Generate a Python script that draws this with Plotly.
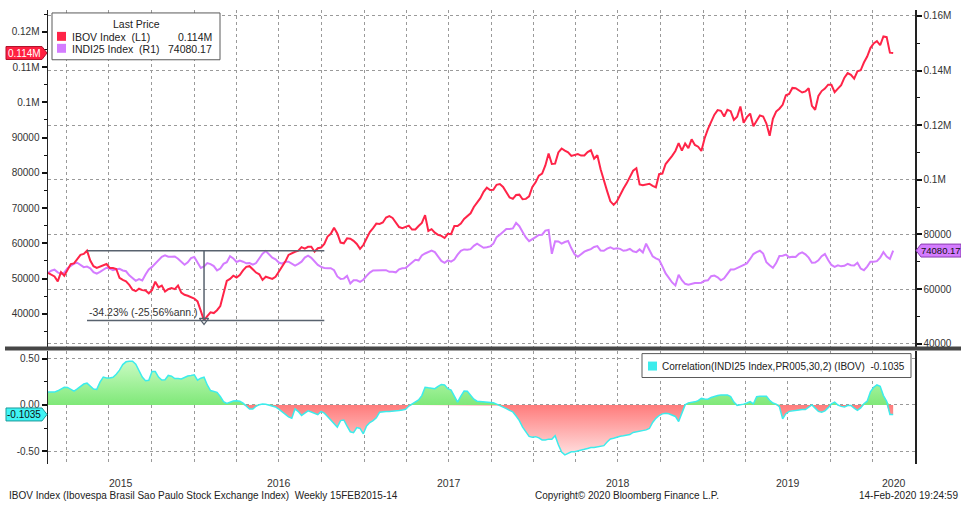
import numpy as np
import pandas as pd
import plotly.graph_objects as go

# ---------------- data (weekly) ----------------
DATES = pd.date_range(end="2020-02-14", periods=261, freq="7D")

IBOV = [
    51600, 51200, 50600, 49200, 51800, 50800, 52500, 54100, 54300, 55500,
    56700, 57000, 57900, 55100, 53500, 53000, 53400, 53700, 54100, 53000,
    53000, 52700, 50200, 49600, 49200, 48200, 46800, 46400, 47100, 46700,
    46600, 45800, 46700, 49100, 47500, 48000, 46300, 47000, 47300, 47000,
    48000, 46000, 45400, 45100, 44800, 44300, 43500, 40800, 38100, 39300,
    40400, 40200, 41000, 42200, 45500, 49300, 49900, 50800, 50300, 51000,
    52300, 53300, 53500, 52500, 51700, 51200, 49600, 50500, 50200, 49900,
    50500, 51900, 53200, 54800, 56700, 57200, 57600, 57900, 58900, 58500,
    59000, 59000, 57600, 58600, 58800, 59800, 61900, 62700, 64400, 62800,
    60200, 60000, 61400, 61300, 60700, 59800, 58400, 59500, 61500, 63200,
    64300, 65600, 65500, 65900, 67300, 67700, 67200, 65800, 64600, 64300,
    64600, 65000, 63900, 63900, 64900, 65800, 68000, 63500, 64000, 63000,
    62400, 62100, 61500, 62700, 62600, 64900, 64900, 65600, 66900, 67600,
    68500, 70300, 71700, 72800, 74600, 75800, 75100, 75200, 76600, 76800,
    76000, 74300, 73000, 72600, 73700, 73800, 72500, 72600, 73300, 76000,
    77300, 79200, 79800, 82100, 85500, 82500, 82600, 85800, 86900, 86300,
    85800, 84800, 85000, 85300, 84900, 84900, 85900, 86400, 84000, 85000,
    81000, 78200, 74800, 71900, 70900, 71900, 73800, 75500, 77000, 78900,
    80600, 81300, 76700, 76500, 76800, 76900, 76300, 75900, 79600, 79800,
    82500, 83600, 84800, 86200, 88400, 86300, 88300, 87000, 89500, 87900,
    87400, 86200, 89800, 92400, 94300, 96500, 97800, 97600, 96000, 97900,
    97500, 95000, 95900, 98800, 94200, 95800, 96800, 93200, 94800, 96300,
    96000, 94000, 90500, 95300, 97400, 98200, 99300, 102000, 102400, 104100,
    104000, 103400, 102800, 103100, 104000, 99000, 97900, 101800, 103200, 103900,
    105000, 105000, 102900, 103900, 104900, 107000, 108300, 107800, 106700, 108800,
    109100, 111300, 113000, 115400, 116700, 117400, 116200, 118700, 118500, 114100,
    114000,
]

INDI25 = [
    65900, 66700, 67100, 66100, 65500, 66000, 67600, 68300, 69300, 69600,
    68900, 68000, 68200, 67600, 66200, 65600, 66300, 67200, 67800, 67500,
    66900, 67200, 67400, 66800, 66500, 65000, 64000, 63000, 63600, 63100,
    65300, 67200, 68100, 69300, 70500, 71800, 72300, 71800, 71800, 71900,
    71100, 69800, 68900, 69800, 71300, 71700, 69800, 67700, 68300, 69500,
    69100, 68400, 66800, 67500, 69200, 69800, 72000, 71200, 69900, 70400,
    70000, 69400, 69500, 68900, 69500, 71000, 72900, 73900, 72600, 71500,
    70900, 69700, 69300, 70000, 70000, 69200, 68600, 69200, 70000, 71500,
    72200, 71400, 70000, 68800, 68100, 67700, 67600, 67600, 66900, 64600,
    63700, 63800, 64800, 62000, 63200, 63200, 62600, 63400, 64800, 66000,
    66800, 66900, 67000, 66900, 66900, 66300, 66300, 66100, 67200, 67600,
    67700, 68700, 69900, 70700, 70500, 72300, 73000, 73700, 74100, 73500,
    71900, 70300, 69600, 70500, 70000, 70800, 72600, 74000, 74500, 74400,
    74600, 75800, 76600, 75700, 75100, 75300, 75600, 76600, 79000, 79900,
    80900, 82000, 82000, 82200, 84200, 83000, 80900, 78900, 77500, 78400,
    79000, 79800, 79900, 81400, 81600, 72900, 77500, 77400, 76600, 77200,
    77600, 74900, 72700, 71800, 72800, 73700, 74200, 74600, 75400, 75700,
    74100, 74000, 74800, 75300, 74700, 74900, 74700, 74000, 74200, 74700,
    73800, 73500, 74500, 73400, 76600, 74000, 72000, 71200, 70700, 68300,
    65700, 64100, 62400, 61300, 65200, 63200, 61900, 61600, 62000, 62200,
    62200, 62300, 63000, 63200, 64700, 64900, 64300, 63200, 63900, 65700,
    67100, 67100, 67600, 68300, 68900, 69400, 71000, 72800, 73500, 74000,
    73000, 69800, 68700, 67800, 69500, 72100, 72200, 72600, 71600, 71800,
    71700, 72900, 73400, 72700, 71500, 69600, 69700, 70500, 72000, 72800,
    70600, 68800, 68100, 68700, 68300, 68500, 69200, 68700, 68600, 69600,
    67500, 66900, 68200, 70000, 70000, 70200, 71500, 73500, 71900, 71000,
    74080.17,
]

CORR = [
    0.138, 0.138, 0.138, 0.152, 0.175, 0.190, 0.188, 0.170, 0.148, 0.172,
    0.196, 0.225, 0.235, 0.200, 0.172, 0.167, 0.246, 0.300, 0.290, 0.290,
    0.298, 0.330, 0.375, 0.435, 0.465, 0.471, 0.471, 0.440, 0.378, 0.300,
    0.260, 0.265, 0.360, 0.360, 0.300, 0.268, 0.272, 0.318, 0.310, 0.285,
    0.284, 0.280, 0.296, 0.312, 0.318, 0.325, 0.266, 0.288, 0.300, 0.215,
    0.155, 0.145, 0.135, 0.090, 0.035, 0.015, 0.029, 0.042, 0.045, 0.040,
    0.018, -0.010, -0.045, -0.045, -0.015, 0.002, 0.010, 0.006, -0.002, -0.015,
    -0.022, -0.045, -0.075, -0.108, -0.130, -0.145, -0.043, -0.072, -0.114, -0.090,
    -0.064, -0.077, -0.092, -0.106, -0.070, -0.090, -0.125, -0.160, -0.196, -0.240,
    -0.170, -0.163, -0.230, -0.290, -0.300, -0.245, -0.254, -0.312, -0.228, -0.190,
    -0.170, -0.140, -0.080, -0.072, -0.072, -0.072, -0.071, -0.066, -0.061, -0.056,
    -0.048, -0.013, 0.012, 0.030, 0.054, 0.100, 0.190, 0.184, 0.178, 0.175,
    0.200, 0.220, 0.215, 0.175, 0.160, 0.090, 0.030, 0.095, 0.150, 0.148,
    0.105, 0.062, 0.040, 0.036, 0.032, 0.029, 0.026, 0.022, 0.008, -0.006,
    -0.023, -0.040, -0.060, -0.076, -0.120, -0.170, -0.240, -0.290, -0.340, -0.348,
    -0.343, -0.356, -0.378, -0.380, -0.370, -0.370, -0.333, -0.430, -0.510, -0.540,
    -0.525, -0.507, -0.507, -0.500, -0.493, -0.480, -0.470, -0.460, -0.460, -0.455,
    -0.448, -0.440, -0.400, -0.368, -0.360, -0.348, -0.338, -0.333, -0.328, -0.320,
    -0.298, -0.293, -0.288, -0.280, -0.270, -0.255, -0.190, -0.145, -0.115, -0.097,
    -0.090, -0.096, -0.110, -0.125, -0.180, -0.098, 0.000, 0.022, 0.027, 0.033,
    0.046, 0.070, 0.064, 0.062, 0.080, 0.092, 0.102, 0.107, 0.109, 0.108,
    0.090, 0.030, -0.005, 0.000, 0.008, 0.020, 0.036, 0.012, 0.088, 0.094,
    0.094, 0.094, 0.050, 0.020, 0.008, -0.020, -0.150, -0.095, -0.070, -0.062,
    -0.061, -0.054, -0.051, -0.050, -0.024, 0.000, -0.035, -0.070, -0.080, -0.064,
    -0.030, 0.010, 0.030, -0.002, -0.016, -0.022, -0.007, -0.007, -0.035, -0.058,
    -0.032, 0.012, 0.040, 0.140, 0.190, 0.215, 0.200, 0.100, 0.040, -0.104,
    -0.1035,
]

IBOV_TICKS = [40000, 50000, 60000, 70000, 80000, 90000, 100000, 110000, 120000]
IBOV_TICK_TEXT = ["40000", "50000", "60000", "70000", "80000", "90000", "0.1M", "0.11M", "0.12M"]
INDI_TICKS = [40000, 60000, 80000, 100000, 120000, 140000, 160000]
INDI_TICK_TEXT = ["40000", "60000", "80000", "0.1M", "0.12M", "0.14M", "0.16M"]
CORR_TICKS = [-0.5, 0.0, 0.5]
CORR_TICK_TEXT = ["-0.50", "0.00", "0.50"]
YEARS = [2015, 2016, 2017, 2018, 2019, 2020]

IBOV_LAST = "0.114M"
INDI_LAST = "74080.17"
CORR_LAST = "-0.1035"
DD_TEXT = "-34.23%\u00a0(-25.56%ann.)"
DD_END = "2016-10-07"

LEGEND_TITLE = "Last Price"
IBOV_NAME = "IBOV Index\u00a0\u00a0(L1)"
INDI_NAME = "INDI25 Index\u00a0\u00a0(R1)"
CORR_NAME = "Correlation(INDI25 Index,PR005,30,2) (IBOV)\u00a0\u00a0" + CORR_LAST
FOOT_LEFT = "IBOV Index (Ibovespa Brasil Sao Paulo Stock Exchange Index)\u00a0\u00a0Weekly 15FEB2015-14"
FOOT_MID = "Copyright\u00a9 2020 Bloomberg Finance L.P."
FOOT_RIGHT = "14-Feb-2020 19:24:59"

assert len(IBOV) == len(INDI25) == len(CORR) == len(DATES)

# ---------------- layout geometry ----------------
W, H = 961, 506
FONT = "Liberation Sans, Arial, sans-serif"
RED = "#ff2448"
PURPLE = "#d47cff"
CYAN = "#3cecec"
GRID = "#9a9a9a"
AXC = "#222222"
TXT = "#333333"


def px(x):
    return x / W


def py(y):
    return 1 - y / H


X_DOM = [px(48), px(915)]
TOP_DOM = [py(348), py(10)]
BOT_DOM = [py(466), py(352)]
X_RANGE = ["2015-02-20", "2020-04-01"]
INDI_RANGE = [38900, 162190]
IBOV_RANGE = [30670, 126220]
CORR_RANGE = [-0.64, 0.586]


def val_to_paper(v, rng, dom):
    return dom[0] + (v - rng[0]) / (rng[1] - rng[0]) * (dom[1] - dom[0])


corr_arr = np.array(CORR, dtype=float)
pos = np.clip(corr_arr, 0, None)
neg = np.clip(corr_arr, None, 0)

fig = go.Figure()

# top panel: INDI25 on base (right) axis, IBOV on overlaying (left) axis so red is on top
fig.add_trace(go.Scatter(x=DATES, y=INDI25, mode="lines", xaxis="x", yaxis="y",
                         line=dict(color=PURPLE, width=2), showlegend=False))
fig.add_trace(go.Scatter(x=DATES, y=IBOV, mode="lines", xaxis="x", yaxis="y2",
                         line=dict(color=RED, width=2), showlegend=False))

# drawdown annotation from the data
ib = np.array(IBOV, dtype=float)
i_tr = int(np.argmin(ib[:130]))
i_pk = int(np.argmax(ib[:i_tr]))
pk_v, tr_v = ib[i_pk], ib[i_tr]
pk_d, tr_d = DATES[i_pk], DATES[i_tr]
DDC = "#58626e"
fig.add_trace(go.Scatter(x=[pk_d, DD_END, None, pk_d, DD_END, None, tr_d, tr_d],
                         y=[pk_v, pk_v, None, tr_v, tr_v, None, pk_v, tr_v],
                         mode="lines", xaxis="x", yaxis="y2",
                         line=dict(color=DDC, width=1.5), showlegend=False))
fig.add_trace(go.Scatter(x=[tr_d], y=[tr_v], mode="markers", xaxis="x", yaxis="y2",
                         marker=dict(symbol="triangle-down-open", size=8,
                                     color=DDC, line=dict(width=1.2, color=DDC)),
                         showlegend=False))

# bottom panel: correlation area
fig.add_trace(go.Scatter(x=DATES, y=pos, mode="lines", xaxis="x2", yaxis="y3",
                         line=dict(width=0), fill="tozeroy",
                         fillgradient=dict(type="vertical",
                                           colorscale=[[0, "#7fe878"], [1, "#cdfcc6"]],
                                           start=0, stop=0.5),
                         showlegend=False))
fig.add_trace(go.Scatter(x=DATES, y=neg, mode="lines", xaxis="x2", yaxis="y3",
                         line=dict(width=0), fill="tozeroy",
                         fillgradient=dict(type="vertical",
                                           colorscale=[[0, "#ffe2e2"], [1, "#ff7c7c"]],
                                           start=-0.55, stop=0),
                         showlegend=False))
fig.add_trace(go.Scatter(x=DATES, y=CORR, mode="lines", xaxis="x2", yaxis="y3",
                         line=dict(color=CYAN, width=1.5), showlegend=False))

tickfont = dict(family=FONT, size=10, color=TXT)
xcommon = dict(domain=X_DOM, range=X_RANGE, type="date", showticklabels=False,
               ticks="", showgrid=True, gridcolor=GRID, griddash="dot", gridwidth=1,
               dtick="M3", tick0="2015-01-01", showline=False, zeroline=False)

fig.update_layout(
    width=W, height=H, autosize=False,
    margin=dict(l=0, r=0, t=0, b=0),
    paper_bgcolor="white", plot_bgcolor="white",
    font=dict(family=FONT, size=10, color=TXT),
    xaxis=dict(anchor="y", **xcommon),
    xaxis2=dict(anchor="y3", matches="x", **xcommon),
    yaxis=dict(domain=TOP_DOM, range=INDI_RANGE, side="right", anchor="x",
               tickmode="array", tickvals=INDI_TICKS, ticktext=INDI_TICK_TEXT,
               ticks="outside", ticklen=5, tickwidth=2, tickcolor="#111",
               showline=True, linecolor=AXC, linewidth=1.5,
               showgrid=True, gridcolor=GRID, griddash="dot", gridwidth=1,
               zeroline=False, tickfont=tickfont,
               minor=dict(tickmode="linear", tick0=0, dtick=10000, ticks="outside",
                          ticklen=3, tickwidth=1, tickcolor="#111", showgrid=False)),
    yaxis2=dict(overlaying="y", range=IBOV_RANGE, side="left", anchor="x",
                tickmode="array", tickvals=IBOV_TICKS, ticktext=IBOV_TICK_TEXT,
                ticks="outside", ticklen=5, tickwidth=2, tickcolor="#111",
                showline=True, linecolor=AXC, linewidth=1.5,
                showgrid=False, zeroline=False, tickfont=tickfont,
                minor=dict(tickmode="linear", tick0=0, dtick=5000, ticks="outside",
                           ticklen=3, tickwidth=1, tickcolor="#111", showgrid=False)),
    yaxis3=dict(domain=BOT_DOM, range=CORR_RANGE, side="left", anchor="x2",
                tickmode="array", tickvals=CORR_TICKS, ticktext=CORR_TICK_TEXT,
                ticks="outside", ticklen=5, tickwidth=2, tickcolor="#111",
                showline=True, mirror=True, linecolor=AXC, linewidth=1.5,
                showgrid=True, gridcolor=GRID, griddash="dot", gridwidth=1,
                zeroline=False, tickfont=tickfont,
                minor=dict(tickmode="linear", tick0=0, dtick=0.25, ticks="outside",
                           ticklen=3, tickwidth=1, tickcolor="#111", showgrid=False)),
)

shapes = []
ann = []

# separator between panels
shapes.append(dict(type="line", xref="paper", yref="paper", x0=px(5), x1=1,
                   y0=py(350), y1=py(350), line=dict(color="#464646", width=4)))

# legend box (top-left)
shapes.append(dict(type="rect", xref="paper", yref="paper", x0=px(52), x1=px(220),
                   y0=py(60), y1=py(13), fillcolor="white",
                   line=dict(color="#5a5a5a", width=1), layer="above"))
shapes.append(dict(type="rect", xref="paper", yref="paper", x0=px(57), x1=px(66),
                   y0=py(41), y1=py(32), fillcolor=RED, line=dict(width=0), layer="above"))
shapes.append(dict(type="rect", xref="paper", yref="paper", x0=px(57), x1=px(66),
                   y0=py(53), y1=py(44), fillcolor=PURPLE, line=dict(width=0), layer="above"))
lf = dict(family=FONT, size=10.5, color="#222")
ann.append(dict(text=LEGEND_TITLE, xref="paper", yref="paper", x=px(136), y=py(24.5),
                xanchor="center", yanchor="middle", showarrow=False, font=lf))
ann.append(dict(text=IBOV_NAME, xref="paper", yref="paper", x=px(70), y=py(37),
                xanchor="left", yanchor="middle", showarrow=False, font=lf))
ann.append(dict(text=IBOV_LAST, xref="paper", yref="paper", x=px(214), y=py(37),
                xanchor="right", yanchor="middle", showarrow=False, font=lf))
ann.append(dict(text=INDI_NAME, xref="paper", yref="paper", x=px(70),
                y=py(49), xanchor="left", yanchor="middle", showarrow=False, font=lf))
ann.append(dict(text=INDI_LAST, xref="paper", yref="paper", x=px(214),
                y=py(49), xanchor="right", yanchor="middle", showarrow=False, font=lf))

# correlation legend box
shapes.append(dict(type="rect", xref="paper", yref="paper", x0=px(642), x1=px(911),
                   y0=py(379), y1=py(355), fillcolor="white",
                   line=dict(color="#5a5a5a", width=1), layer="above"))
shapes.append(dict(type="rect", xref="paper", yref="paper", x0=px(648), x1=px(657),
                   y0=py(372), y1=py(363), fillcolor=CYAN, line=dict(width=0), layer="above"))
ann.append(dict(text=CORR_NAME, xref="paper", yref="paper", x=px(660), y=py(367.5),
                xanchor="left", yanchor="middle", showarrow=False,
                font=dict(family=FONT, size=10, color="#222")))


# value badges
def badge_left(yc, fill, border, text, tcolor):
    h = 6.5 / H
    x0, x1, tip = px(6), px(42), px(47)
    shapes.append(dict(type="path", xref="paper", yref="paper",
                       path=f"M {x0},{yc-h} L {x1},{yc-h} L {tip},{yc} L {x1},{yc+h} L {x0},{yc+h} Z",
                       fillcolor=fill, line=dict(color=border, width=1), layer="above"))
    ann.append(dict(text=text, xref="paper", yref="paper", x=(x0 + x1) / 2, y=yc,
                    xanchor="center", yanchor="middle", showarrow=False,
                    font=dict(family=FONT, size=10, color=tcolor)))


def badge_right(yc, fill, border, text, tcolor):
    h = 6.5 / H
    tip, x1, x2 = px(916), px(921), px(961)
    shapes.append(dict(type="path", xref="paper", yref="paper",
                       path=f"M {tip},{yc} L {x1},{yc-h} L {x2},{yc-h} L {x2},{yc+h} L {x1},{yc+h} Z",
                       fillcolor=fill, line=dict(color=border, width=1), layer="above"))
    ann.append(dict(text=text, xref="paper", yref="paper", x=px(940.5), y=yc,
                    xanchor="center", yanchor="middle", showarrow=False,
                    font=dict(family=FONT, size=9.5, color=tcolor)))


badge_left(val_to_paper(IBOV[-1], IBOV_RANGE, TOP_DOM), "#ff2040", "#b0102a", IBOV_LAST, "white")
badge_right(val_to_paper(INDI25[-1], INDI_RANGE, TOP_DOM), PURPLE, "#8a3cb0", INDI_LAST, "#111")
badge_left(val_to_paper(CORR[-1], CORR_RANGE, BOT_DOM), "#40f4f4", "#1a9a9a", CORR_LAST, "#111")

# drawdown text
ann.append(dict(text=DD_TEXT, xref="x", yref="y2", x=pk_d, y=tr_v, xanchor="left",
                yanchor="bottom", yshift=0, showarrow=False,
                font=dict(family=FONT, size=10.5, color="#333")))

# year labels centred on the visible part of each year
x_lo, x_hi = pd.Timestamp(X_RANGE[0]), pd.Timestamp(X_RANGE[1])
for yr in YEARS:
    a = max(pd.Timestamp(f"{yr}-01-01"), x_lo)
    b = min(pd.Timestamp(f"{yr + 1}-01-01"), x_hi)
    mid = a + (b - a) / 2
    ann.append(dict(text=str(yr), xref="x2", yref="paper", x=mid, y=py(485),
                    xanchor="center", yanchor="middle", showarrow=False,
                    font=dict(family=FONT, size=10.5, color=TXT)))

# footer
ff = dict(family=FONT, size=10, color="#222")
ann.append(dict(text=FOOT_LEFT, xref="paper", yref="paper", x=px(7), y=py(497.5),
                xanchor="left", yanchor="middle", showarrow=False, font=ff))
ann.append(dict(text=FOOT_MID, xref="paper", yref="paper", x=px(627), y=py(497.5),
                xanchor="center", yanchor="middle", showarrow=False, font=ff))
ann.append(dict(text=FOOT_RIGHT, xref="paper", yref="paper", x=px(960), y=py(497.5),
                xanchor="right", yanchor="middle", showarrow=False, font=ff))

fig.update_layout(shapes=shapes, annotations=ann)
fig.write_html(
    "out.html",
    config={"displayModeBar": False, "staticPlot": True},
    post_script="document.body.style.margin='0';document.body.style.overflow='hidden';",
)
